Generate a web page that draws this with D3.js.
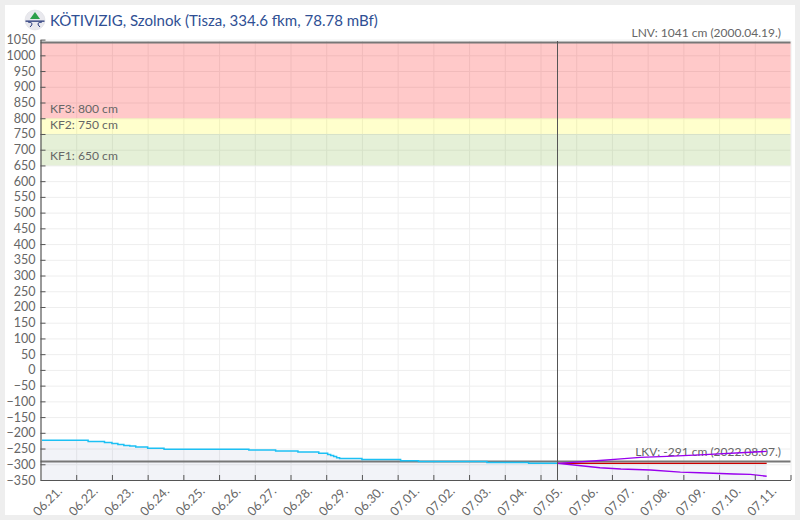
<!DOCTYPE html>
<html><head><meta charset="utf-8">
<style>
html,body{margin:0;padding:0;background:#eee;}
svg{display:block;}
text{font-family:Lato,sans-serif;}
</style>
<script src="https://cdn.jsdelivr.net/npm/d3@7"></script>
</head><body>
<svg id="c" width="800" height="520"></svg>
<script>
const titleText = "KÖTIVIZIG, Szolnok (Tisza, 334.6 fkm, 78.78 mBf)";
const lnvLabel = "LNV: 1041 cm (2000.04.19.)";
const lkvLabel = "LKV: -291 cm (2022.08.07.)";
const lnvValue = 1041;
const lkvValue = -291;
const bandNames = ["KF3: 800 cm", "KF2: 750 cm", "KF1: 650 cm"];
const bandLow = [800, 750, 650];
const bandHigh = [1041, 800, 750];
const bandColors = ["#ff0000", "#ffff00", "#70ad20"];
const bandOpacity = [0.21, 0.2, 0.18];
const nowTime = "07-05 11:30";

const obsTimes = ["06-21 01:00","06-22 08:00","06-22 19:00","06-23 00:00","06-23 04:00","06-23 08:00","06-23 12:00","06-23 16:00","06-24 00:00","06-24 11:00","06-26 20:00","06-27 14:00","06-28 05:00","06-28 19:00","06-29 01:00","06-29 03:00","06-29 05:00","06-29 07:00","06-29 09:00","06-29 11:00","06-30 00:00","07-01 02:00","07-01 14:00","07-03 12:00","07-04 16:00","07-05 11:30"];
const obsValues = [-224,-228,-231,-234,-237,-240,-242,-245,-249,-252,-255,-258,-261,-265,-269,-272,-275,-279,-282,-282,-285,-289,-291,-294,-297,-297];

const medianTimes = ["07-05 11:30","07-11 08:00"];
const medianValues = [-297,-297];
const upperTimes = ["07-05 11:30","07-06 16:00","07-07 06:00","07-07 19:00","07-08 13:00","07-09 11:00","07-10 21:00","07-11 08:00"];
const upperValues = [-297,-288,-283,-278,-275,-270,-262,-259];
const lowerTimes = ["07-05 11:30","07-06 00:00","07-06 16:00","07-07 06:00","07-08 02:00","07-08 22:00","07-09 11:00","07-10 10:00","07-10 21:00","07-11 08:00"];
const lowerValues = [-297,-303,-311,-315,-318,-325,-327,-331,-332,-338];

const parse = d3.utcParse("%Y-%m-%d %H:%M");
const T = s => parse("2025-" + s);
const zip = (ts, vs) => ts.map((t, i) => ({t: T(t), v: vs[i]}));

const pL = 40.5, pR = 790.5, pT = 39.6, pB = 480;
const x = d3.scaleUtc().domain([T("06-21 00:00"), T("07-12 00:00")]).range([pL, pR]);
const y = d3.scaleLinear().domain([-350, 1050]).range([pB, pT]);
const svg = d3.select("#c");
const W = pR - pL;

svg.append("rect").attr("x", 5).attr("y", 5).attr("width", 790).attr("height", 510).attr("fill", "#fff");

const yTicks = d3.range(-350, 1051, 50);
const dayTicks = d3.utcDay.range(T("06-22 00:00"), T("07-12 00:01"));
const labelDays = d3.utcDay.range(T("06-21 00:00"), T("07-12 00:00")).map(d => d3.utcHour.offset(d, 12));

// grid
const gy = svg.append("g").attr("transform", `translate(${pL},0)`)
  .call(d3.axisLeft(y).tickValues(yTicks).tickSize(-W).tickFormat(""));
gy.select(".domain").remove();
gy.selectAll("line").attr("stroke", "#eeeeee");
const gx = svg.append("g").attr("transform", `translate(0,${pB})`)
  .call(d3.axisBottom(x).tickValues(dayTicks).tickSize(-(pB - 41)).tickFormat(""));
gx.select(".domain").remove();
gx.selectAll("line").attr("stroke", "#eeeeee");

// bands
bandNames.forEach((name, i) => {
  svg.append("rect").attr("x", pL).attr("width", W)
    .attr("y", y(bandHigh[i])).attr("height", y(bandLow[i]) - y(bandHigh[i]))
    .attr("fill", bandColors[i]).attr("fill-opacity", bandOpacity[i]);
  svg.append("text").attr("x", 50).attr("y", y(bandLow[i]) - 5)
    .attr("font-size", 12.1).attr("fill", "#666").text(name);
});

// area under level
const areaData = zip(obsTimes, obsValues).concat(zip(medianTimes, medianValues));
svg.append("path").datum(areaData)
  .attr("fill", "#3c4a96").attr("fill-opacity", 0.065)
  .attr("d", d3.area().x(d => x(d.t)).y0(pB).y1(d => y(d.v)).curve(d3.curveStepAfter));

// record labels and lines
svg.append("text").attr("x", 781).attr("y", 37).attr("text-anchor", "end")
  .attr("font-size", 12).attr("fill", "#666").text(lnvLabel);
svg.append("text").attr("x", 781).attr("y", 456).attr("text-anchor", "end")
  .attr("font-size", 12).attr("fill", "#666").text(lkvLabel);
[lnvValue, lkvValue].forEach(v => {
  svg.append("line").attr("x1", pL).attr("x2", pR).attr("y1", y(v)).attr("y2", y(v))
    .attr("stroke", "#777").attr("stroke-width", 2);
});

// series
const stepLine = d3.line().x(d => x(d.t)).y(d => y(d.v)).curve(d3.curveStepAfter);
const straight = d3.line().x(d => x(d.t)).y(d => y(d.v));
svg.append("path").datum(zip(obsTimes, obsValues)).attr("fill", "none")
  .attr("stroke", "#1cc0f4").attr("stroke-width", 1.5).attr("d", stepLine);
svg.append("path").datum(zip(medianTimes, medianValues)).attr("fill", "none")
  .attr("stroke", "#cc0000").attr("stroke-width", 1.3).attr("d", straight);
[[upperTimes, upperValues], [lowerTimes, lowerValues]].forEach(([t, v]) => {
  svg.append("path").datum(zip(t, v)).attr("fill", "none")
    .attr("stroke", "#9900ee").attr("stroke-width", 1.4).attr("d", straight);
});

// now line
const nowX = Math.floor(x(T(nowTime))) + 0.5;
svg.append("line").attr("x1", nowX).attr("x2", nowX)
  .attr("y1", 41).attr("y2", pB).attr("stroke", "#555").attr("stroke-width", 1);

// axes
const ay = svg.append("g").attr("transform", `translate(${pL},0)`)
  .call(d3.axisLeft(y).tickValues(yTicks).tickSizeInner(-5).tickSizeOuter(0).tickPadding(5).tickFormat(d3.format("d")));
ay.select(".domain").attr("stroke", "#555").attr("stroke-width", 1.2);
ay.selectAll("line").attr("stroke", "#555");
ay.selectAll("text").attr("font-family", "Lato,sans-serif").attr("font-size", 12.5).attr("fill", "#666");

const ax = svg.append("g").attr("transform", `translate(0,${pB})`)
  .call(d3.axisBottom(x).tickValues(dayTicks).tickSizeInner(-5).tickSizeOuter(0).tickFormat(""));
ax.select(".domain").attr("stroke", "#555").attr("stroke-width", 1.2);
ax.selectAll("line").attr("stroke", "#555");

const al = svg.append("g").attr("transform", `translate(0,${pB})`)
  .call(d3.axisBottom(x).tickValues(labelDays).tickSize(0).tickFormat(d3.utcFormat("%m.%d.")));
al.select(".domain").remove();
al.selectAll("text")
  .attr("font-family", "Lato,sans-serif").attr("font-size", 12.5).attr("fill", "#666")
  .attr("text-anchor", "end").attr("dy", null).attr("y", null)
  .attr("transform", "translate(4,12) rotate(-45)");

// title
svg.append("text").attr("x", 50).attr("y", 26).attr("font-size", 15.05).attr("fill", "#2f4f94").text(titleText);

// logo
const logo = svg.append("g").attr("transform", "translate(35,20)");
logo.append("circle").attr("r", 10).attr("fill", "#e9e9ee").attr("stroke", "#d8d8de").attr("stroke-width", .5);
logo.append("path").attr("d", "M0,-8 L5,-1 L-5,-1 Z").attr("fill", "#2ca04a");
logo.append("path").attr("d", "M-9.5,0.5 H9.5 V1.8 H-9.5 Z").attr("fill", "#27387a");
logo.append("path").attr("d", "M-7,2 Q0,2.5 -5,7 M7,2 Q0,2.5 5,7").attr("fill", "none").attr("stroke", "#27387a").attr("stroke-width", 1);
</script>
</body></html>
